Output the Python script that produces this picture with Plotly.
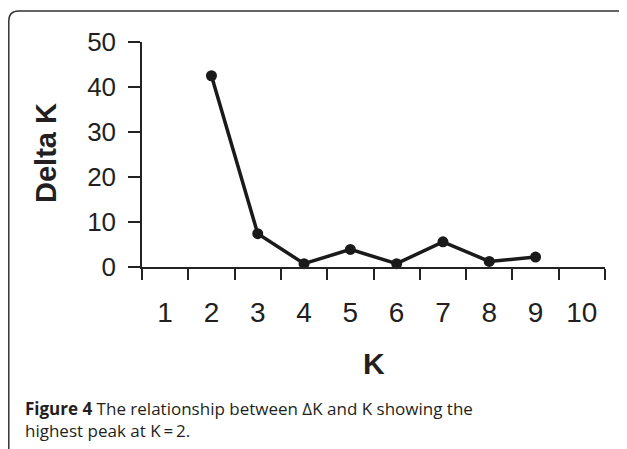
import plotly.graph_objects as go

# ---- data ----
k_values = [2, 3, 4, 5, 6, 7, 8, 9]
delta_k = [42.5, 7.4, 0.75, 3.9, 0.75, 5.6, 1.25, 2.2]
x_tick_vals = [1, 2, 3, 4, 5, 6, 7, 8, 9, 10]
x_tick_text = ["1", "2", "3", "4", "5", "6", "7", "8", "9", "10"]
y_tick_vals = [0, 10, 20, 30, 40, 50]
y_tick_text = ["0", "10", "20", "30", "40", "50"]

# page body has an 8px default margin, so figure coords = screen coords - 8
OFF = 8
W, H = 627, 449
PW, PH = 463, 225
L = 142 - OFF
T = 42 - OFF
R = W - L - PW
B = H - T - PH

def px(xs):
    return ((xs - OFF) - L) / PW

def py(ys):
    return (T + PH - (ys - OFF)) / PH

INK = "#231f20"

fig = go.Figure()
fig.add_trace(go.Scatter(
    x=k_values, y=delta_k, mode="lines+markers",
    line=dict(color="#1a1a1a", width=3.5),
    marker=dict(color="#1a1a1a", size=11),
    cliponaxis=False, showlegend=False,
))

border = (f"M {px(8.8)},{py(470)} L {px(8.8)},{py(21)} "
          f"Q {px(8.8)},{py(11)} {px(18.8)},{py(11)} "
          f"L {px(622)},{py(11)} Q {px(627)},{py(11)} {px(627)},{py(16)}")

fig.update_layout(
    width=W, height=H,
    margin=dict(l=L, r=R, t=T, b=B, pad=0),
    paper_bgcolor="white", plot_bgcolor="white",
    font=dict(family="Liberation Sans, Arial", color=INK),
    xaxis=dict(
        range=[0.5, 10.5], tickmode="array", tickvals=x_tick_vals, ticktext=x_tick_text,
        ticks="", showgrid=False, zeroline=False,
        showline=True, linecolor="#222", linewidth=1.5,
        tickfont=dict(size=28, color=INK), ticklabelstandoff=20,
        minor=dict(tick0=0.5, dtick=1, ticks="outside", ticklen=11,
                   tickwidth=1.5, tickcolor="#222", showgrid=False),
    ),
    yaxis=dict(
        range=[0, 50], tickmode="array", tickvals=y_tick_vals, ticktext=y_tick_text,
        ticks="outside", ticklen=12, tickwidth=1.5, tickcolor="#222",
        showgrid=False, zeroline=False,
        showline=True, linecolor="#222", linewidth=1.5,
        tickfont=dict(size=26, color=INK), ticklabelstandoff=7,
    ),
    shapes=[dict(type="path", xref="paper", yref="paper", path=border,
                 line=dict(color="#333", width=1.5), layer="above")],
    annotations=[
        dict(text="<b>Delta K</b>", xref="paper", yref="paper",
             x=px(46), y=py(153), xanchor="center", yanchor="middle",
             textangle=-90, showarrow=False,
             font=dict(size=29, color=INK, family="Liberation Sans, Arial")),
        dict(text="<b>K</b>", xref="paper", yref="paper",
             x=0.5, y=py(363.5), xanchor="center", yanchor="middle",
             showarrow=False,
             font=dict(size=30, color=INK, family="Liberation Sans, Arial")),
        dict(text=("<b>Figure 4</b> The relationship between \u0394K and K showing the"
                   "<br>highest peak at K\u2009=\u20092."),
             xref="paper", yref="paper", x=px(23), y=py(395),
             xanchor="left", yanchor="top", align="left", showarrow=False,
             font=dict(size=17, color=INK, family="Open Sans")),
    ],
)

fig.write_html("out.html")
